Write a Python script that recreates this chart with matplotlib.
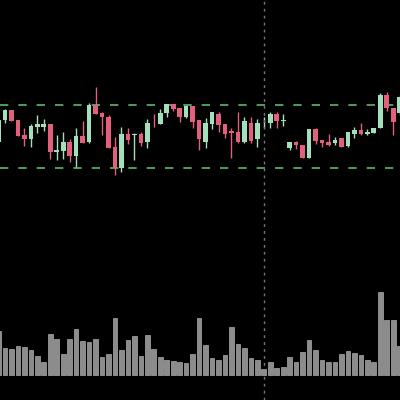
import matplotlib
matplotlib.use("Agg")
import matplotlib.pyplot as plt

# candle index -1 .. 61
idx = list(range(-1, 62))
opens = [157.7, 180, 190, 179.7, 164.7, 160.7, 172.7, 173.3, 175.7, 148, 149.3, 158, 144.3, 164, 158, 194.7,
         186.7, 183.3, 152.7, 131.7, 166, 165.3, 165.7, 157.7, 177.3, 176.3, 187.3, 195.7, 191.7, 183.3, 194,
         180, 158.3, 176.3, 186.3, 176, 169, 167.7, 158.3, 177.3, 161, 176.7, 176.7, 186.3, 179, 152.3, 158.3,
         154.7, 141.7, 170.7, 159.7, 158.3, 156.7, 161.7, 154, 166.3, 170, 166, 167.3, 171.7, 205, 192.3, 186.7]
closes = [180, 190, 179, 164, 161, 173.7, 175.7, 175.7, 148, 150, 157.7, 144, 163.7, 157.3, 194.7, 186,
          183.3, 151.7, 131.7, 165.7, 160, 166.3, 157.3, 176.7, 176.7, 187.3, 195.7, 191.3, 182.7, 194, 178.3,
          160.7, 176.7, 187.7, 175, 166, 166.7, 158.3, 178.7, 159, 176.7, 177.3, 186.3, 179, 179.7, 157.7, 155,
          141.7, 170.7, 159, 157.3, 155, 160, 153.3, 167.7, 169.7, 165.7, 167.7, 171.7, 205, 192.3, 178.3, 203.3]
highs = [180, 190.7, 190, 179.7, 171.7, 175.7, 185, 180.7, 175.7, 165, 168.3, 160.7, 171.7, 179.3, 197.3, 213.3,
         188.3, 185, 163.3, 173.3, 172.3, 167.3, 168.3, 180.7, 185.7, 190.7, 195.7, 195.7, 191.7, 194, 194,
         180, 181.7, 187.7, 187.7, 176, 172.3, 187.7, 182.7, 182.7, 180.7, 183.3, 187.7, 188.3, 186.3, 158.3, 159,
         154.7, 170.7, 171.7, 159.7, 165.7, 162.7, 161.7, 168.3, 173.3, 176.7, 170.7, 171.7, 207.3, 208.3, 192.3, 205]
lows = [157.7, 177.3, 179, 164, 154, 153.3, 167.3, 169.3, 140.7, 140, 140.7, 138.3, 131.7, 156.7, 156.7, 186,
        165, 151.7, 125, 128.3, 156, 140, 154, 151.7, 173.3, 176.3, 183.3, 189.3, 178.3, 181.7, 172.3,
        150, 151.7, 170.7, 168.3, 161.7, 142.3, 156.7, 156.7, 156.7, 153.3, 171.7, 171.7, 172.3, 174.3, 150, 151,
        141.7, 141.7, 156, 153.3, 154.3, 155, 153.3, 153.3, 161.7, 165, 164.7, 167.3, 171.7, 189.3, 165, 185]
volumes = [131, 81, 77, 86, 84, 73, 56, 39, 122, 108, 63, 106, 137, 100, 98, 106, 53, 62, 169, 73, 104,
           117, 55, 119, 77, 54, 45, 42, 39, 34, 61, 169, 90, 50, 44, 59, 142, 92, 81, 50, 45, 17, 39,
           21, 23, 52, 39, 68, 104, 75, 45, 39, 37, 61, 71, 66, 59, 44, 37, 247, 164, 164, 86]
upper_band = 195
lower_band = 132
marker_idx = 40

GREEN = "#a3dfb8"
RED = "#e2607c"

fig = plt.figure(figsize=(4, 4), dpi=100, facecolor="black")
ax = fig.add_axes([0, 0, 1, 1], facecolor="black")
ax.set_xlim(-0.77, 61.05)
ax.set_ylim(-100, 300)
ax.axis("off")

for i, o, c, h, l in zip(idx, opens, closes, highs, lows):
    col = GREEN if c >= o else RED
    ax.vlines(i, l, h, color=col, linewidth=1, zorder=2)
    ax.bar(i, max(abs(c - o), 0.8), bottom=min(o, c), width=0.72, color=col, zorder=3)

ax.axhline(upper_band, color="#5cb86c", linestyle=(0, (5, 6)), linewidth=1.2)
ax.axhline(lower_band, color="#5cb86c", linestyle=(0, (5, 6)), linewidth=1.2)
ax.axvline(marker_idx, color="#777777", linestyle=(0, (2, 3)), linewidth=1)

vax = ax.twinx()
vax.set_ylim(-76, 1124)
vax.axis("off")
vax.bar(idx, volumes, width=0.72, color="#8c8c8c", edgecolor="#aaaaaa", linewidth=0.5)

fig.savefig("out.png", dpi=100, facecolor="black")
